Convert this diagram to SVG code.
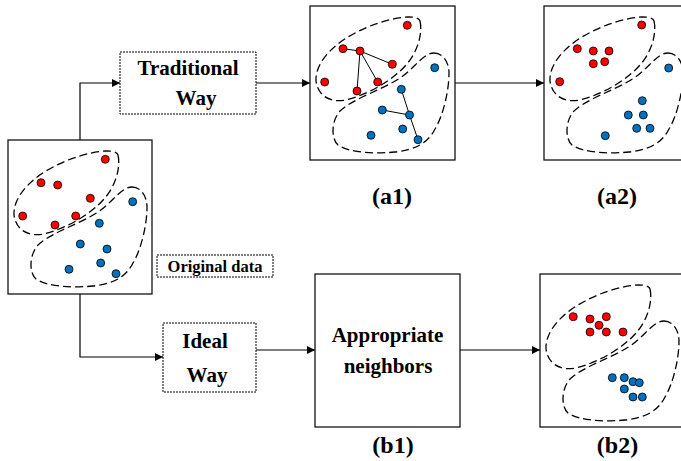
<svg xmlns="http://www.w3.org/2000/svg" xmlns:xlink="http://www.w3.org/1999/xlink" width="681" height="461" viewBox="0 0 681 461">
<style>
.box{fill:#fff;stroke:#000;stroke-width:1.2}
.lbox{fill:#fff;stroke:#000;stroke-width:1;stroke-dasharray:2,1}
.blob{fill:none;stroke:#000;stroke-width:1.3;stroke-dasharray:8,4}
.r{fill:#ff0000;stroke:#000;stroke-width:0.8}
.b{fill:#0070c0;stroke:#000;stroke-width:0.8}
.edge{fill:none;stroke:#000;stroke-width:1.2}
.t{font-family:"Liberation Serif","Times New Roman",serif;font-weight:bold;fill:#000;text-anchor:middle}
.nb{stroke:#000;stroke-width:1}
</style>
<defs>
<marker id="arr" viewBox="0 0 10 10" refX="10" refY="5" markerWidth="8" markerHeight="8" markerUnits="userSpaceOnUse" orient="auto">
<path d="M0,0 L10,5 L0,10 Z" fill="#000"/>
</marker>
<path id="blobR" class="blob" d="M110,15 C113,28 107,47 96,59 C84,73 60,88 36,94 C20,97 8,90 6,75 C5,60 18,43 38,31 C58,19 80,12 98,11 C105,11 109,12 110,15 Z"/>
<path id="blobB" class="blob" d="M124,47 C132,47 139,55 139,67 C139,85 133,110 125,123 C118,137 105,144 85,146 C65,148 40,147 28,139 C21,133 21,115 30,105 C44,92 70,85 90,72 C105,62 113,47 124,47 Z"/>
</defs>

<g id="connectors">
<path class="edge" d="M80,140 V83 H120" marker-end="url(#arr)"/>
<path class="edge" d="M256,83 H310" marker-end="url(#arr)"/>
<path class="edge" d="M455,83 H544" marker-end="url(#arr)"/>
<path class="edge" d="M80,294 V357 H163" marker-end="url(#arr)"/>
<path class="edge" d="M256,350 H315" marker-end="url(#arr)"/>
<path class="edge" d="M460,350 H540" marker-end="url(#arr)"/>
</g>

<g id="original" transform="translate(8,140)">
<rect class="box" x="0" y="0" width="144" height="154"/>
<use xlink:href="#blobR"/>
<use xlink:href="#blobB"/>
<circle class="r" cx="97.3" cy="19.3" r="4"/>
<circle class="r" cx="33" cy="42.7" r="4"/>
<circle class="r" cx="49.7" cy="45" r="4"/>
<circle class="r" cx="82.3" cy="58.3" r="4"/>
<circle class="r" cx="14.7" cy="76" r="4"/>
<circle class="r" cx="47" cy="85" r="4"/>
<circle class="r" cx="67.7" cy="76" r="4"/>
<circle class="b" cx="124.7" cy="61.7" r="4"/>
<circle class="b" cx="91.3" cy="83.3" r="4"/>
<circle class="b" cx="72.3" cy="104" r="4"/>
<circle class="b" cx="99" cy="109" r="4"/>
<circle class="b" cx="92.7" cy="123" r="4"/>
<circle class="b" cx="61" cy="129.3" r="4"/>
<circle class="b" cx="108" cy="133.7" r="4"/>
</g>

<g id="original-label">
<rect class="lbox" x="157" y="255" width="116" height="22"/>
<text class="t" x="215" y="271.5" font-size="16.5">Original data</text>
</g>

<g id="traditional">
<rect class="lbox" x="120" y="52" width="136" height="62"/>
<text class="t" x="188" y="75" font-size="21">Traditional</text>
<text class="t" x="196" y="105" font-size="21">Way</text>
</g>

<g id="a1" transform="translate(310,6)">
<rect class="box" x="0" y="0" width="145" height="154"/>
<use xlink:href="#blobR"/>
<use xlink:href="#blobB"/>
<line class="nb" x1="50" y1="45" x2="33" y2="42.7"/>
<line class="nb" x1="50" y1="45" x2="82.3" y2="58.3"/>
<line class="nb" x1="50" y1="45" x2="67.7" y2="76"/>
<line class="nb" x1="50" y1="45" x2="47" y2="85"/>
<line class="nb" x1="99.5" y1="109" x2="91.3" y2="83.3"/>
<line class="nb" x1="99.5" y1="109" x2="72.3" y2="104"/>
<line class="nb" x1="99.5" y1="109" x2="108" y2="133.7"/>
<circle class="r" cx="97.3" cy="19.3" r="4"/>
<circle class="r" cx="33" cy="42.7" r="4"/>
<circle class="r" cx="50" cy="45" r="4"/>
<circle class="r" cx="82.3" cy="58.3" r="4"/>
<circle class="r" cx="14.7" cy="76" r="4"/>
<circle class="r" cx="47" cy="85" r="4"/>
<circle class="r" cx="67.7" cy="76" r="4"/>
<circle class="b" cx="124.7" cy="61.7" r="4"/>
<circle class="b" cx="91.3" cy="83.3" r="4"/>
<circle class="b" cx="72.3" cy="104" r="4"/>
<circle class="b" cx="99.5" cy="109" r="4"/>
<circle class="b" cx="92.7" cy="123" r="4"/>
<circle class="b" cx="61" cy="129.3" r="4"/>
<circle class="b" cx="108" cy="133.7" r="4"/>
</g>
<text class="t" x="392" y="204" font-size="24">(a1)</text>

<g id="a2" transform="translate(544,6)">
<rect class="box" x="0" y="0" width="145" height="154"/>
<use xlink:href="#blobR"/>
<use xlink:href="#blobB"/>
<circle class="r" cx="97.7" cy="19" r="4"/>
<circle class="r" cx="33.3" cy="42.7" r="4"/>
<circle class="r" cx="49.3" cy="45" r="4"/>
<circle class="r" cx="65" cy="45" r="4"/>
<circle class="r" cx="49.3" cy="57.7" r="4"/>
<circle class="r" cx="60.7" cy="55.7" r="4"/>
<circle class="r" cx="15.7" cy="75.7" r="4"/>
<circle class="b" cx="124.7" cy="62" r="4"/>
<circle class="b" cx="98.3" cy="94.7" r="4"/>
<circle class="b" cx="84.3" cy="109" r="4"/>
<circle class="b" cx="99.3" cy="109" r="4"/>
<circle class="b" cx="92.7" cy="122.3" r="4"/>
<circle class="b" cx="106" cy="122.3" r="4"/>
<circle class="b" cx="61.3" cy="129.7" r="4"/>
</g>
<text class="t" x="617" y="204" font-size="24">(a2)</text>

<g id="ideal">
<rect class="lbox" x="163" y="323" width="93" height="69"/>
<text class="t" x="205" y="348" font-size="21">Ideal</text>
<text class="t" x="207" y="381.5" font-size="21">Way</text>
</g>

<g id="b1">
<rect class="box" x="315" y="274" width="145" height="153"/>
<text class="t" x="387.5" y="341.5" font-size="21">Appropriate</text>
<text class="t" x="388" y="373" font-size="21">neighbors</text>
</g>
<text class="t" x="393" y="453" font-size="24">(b1)</text>

<g id="b2" transform="translate(540,274)">
<rect class="box" x="0" y="0" width="145" height="153"/>
<use xlink:href="#blobR"/>
<use xlink:href="#blobB"/>
<circle class="r" cx="33.3" cy="42.7" r="4"/>
<circle class="r" cx="50" cy="45" r="4"/>
<circle class="r" cx="66.3" cy="42.7" r="4"/>
<circle class="r" cx="59" cy="51.3" r="4"/>
<circle class="r" cx="50" cy="58" r="4"/>
<circle class="r" cx="66.3" cy="58" r="4"/>
<circle class="r" cx="83" cy="58" r="4"/>
<circle class="b" cx="72.3" cy="103.7" r="4"/>
<circle class="b" cx="84.3" cy="103.7" r="4"/>
<circle class="b" cx="93" cy="107.7" r="4"/>
<circle class="b" cx="99.3" cy="108.7" r="4"/>
<circle class="b" cx="84.3" cy="115" r="4"/>
<circle class="b" cx="93" cy="123" r="4"/>
<circle class="b" cx="102.3" cy="123" r="4"/>
</g>
<text class="t" x="617.5" y="453" font-size="24">(b2)</text>
</svg>
